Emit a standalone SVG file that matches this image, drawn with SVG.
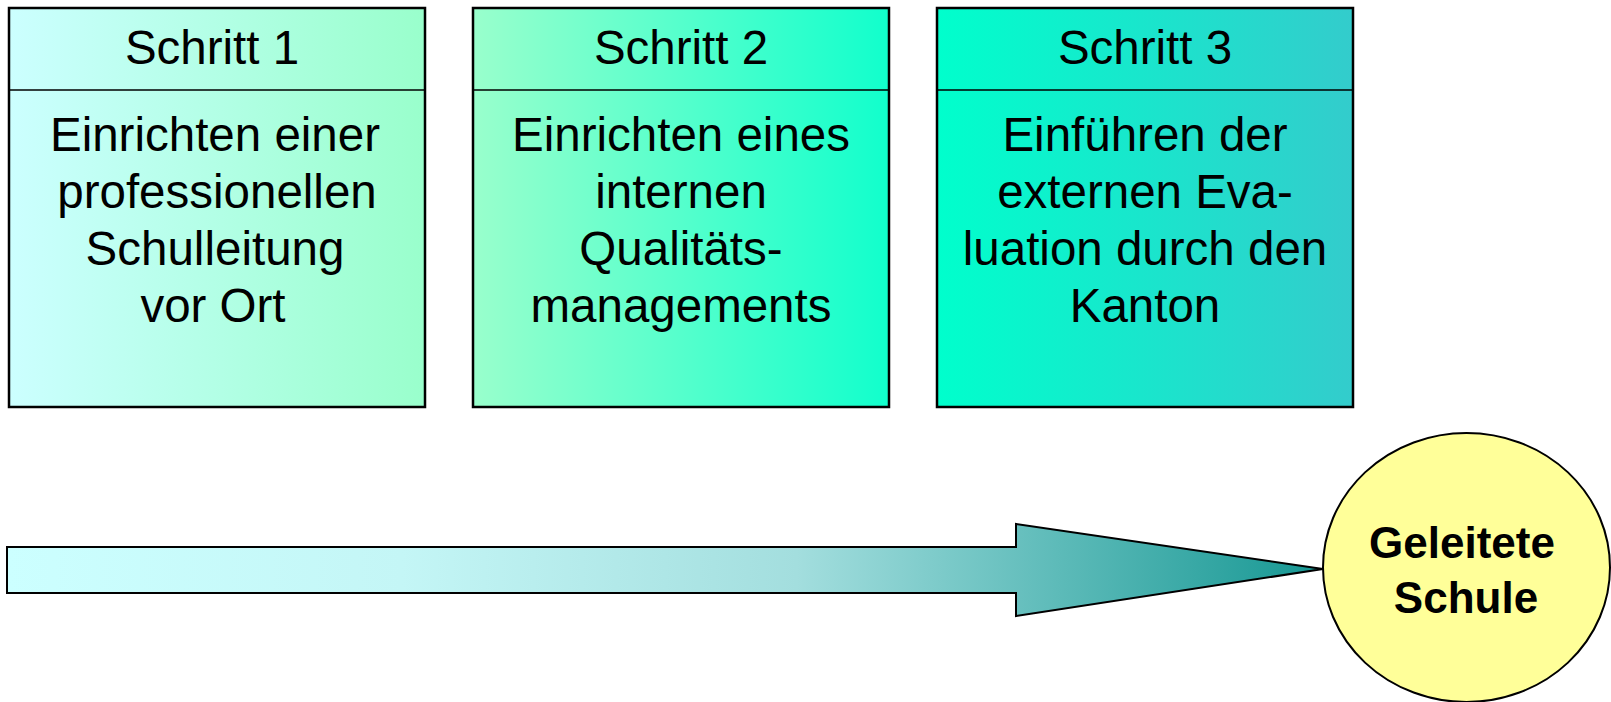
<svg xmlns="http://www.w3.org/2000/svg" width="1611" height="702" viewBox="0 0 1611 702">
<defs>
<linearGradient id="g1" x1="0" y1="0" x2="1" y2="0"><stop offset="0" stop-color="#CCFFFF"/><stop offset="1" stop-color="#99FFCC"/></linearGradient>
<linearGradient id="g2" x1="0" y1="0" x2="1" y2="0"><stop offset="0" stop-color="#99FFCC"/><stop offset="1" stop-color="#11FFCC"/></linearGradient>
<linearGradient id="g3" x1="0" y1="0" x2="1" y2="0"><stop offset="0" stop-color="#00FFCC"/><stop offset="1" stop-color="#33CCCC"/></linearGradient>
<linearGradient id="ga" gradientUnits="userSpaceOnUse" x1="7" y1="0" x2="1323" y2="0"><stop offset="0" stop-color="#CCFFFF"/><stop offset="0.3" stop-color="#C4F6F6"/><stop offset="0.6" stop-color="#A3DEDE"/><stop offset="1" stop-color="#169793"/></linearGradient>
</defs>
<style>
.box{stroke:#000;stroke-width:2.5}
.sep{stroke:#000;stroke-width:1.5}
.t{font-family:"Liberation Sans",Arial,sans-serif;font-size:47.5px;fill:#000;text-anchor:middle}
.b{font-family:"Liberation Sans",Arial,sans-serif;font-size:44px;font-weight:bold;fill:#000;text-anchor:middle}
</style>
<g id="step1">
<rect class="box" x="9" y="8" width="416" height="399" fill="url(#g1)"/>
<line class="sep" x1="9" y1="90" x2="425" y2="90"/>
<text class="t" x="212" y="64">Schritt 1</text>
<text class="t" x="215" y="151">Einrichten einer</text>
<text class="t" x="217" y="208">professionellen</text>
<text class="t" x="215" y="265">Schulleitung</text>
<text class="t" x="213" y="322">vor Ort</text>
</g>
<g id="step2">
<rect class="box" x="473" y="8" width="416" height="399" fill="url(#g2)"/>
<line class="sep" x1="473" y1="90" x2="889" y2="90"/>
<text class="t" x="681" y="64">Schritt 2</text>
<text class="t" x="681" y="151">Einrichten eines</text>
<text class="t" x="681" y="208">internen</text>
<text class="t" x="681" y="265">Qualitäts-</text>
<text class="t" x="681" y="322">managements</text>
</g>
<g id="step3">
<rect class="box" x="937" y="8" width="416" height="399" fill="url(#g3)"/>
<line class="sep" x1="937" y1="90" x2="1353" y2="90"/>
<text class="t" x="1145" y="64">Schritt 3</text>
<text class="t" x="1145" y="151">Einführen der</text>
<text class="t" x="1145" y="208">externen Eva-</text>
<text class="t" x="1145" y="265">luation durch den</text>
<text class="t" x="1145" y="322">Kanton</text>
</g>
<g id="connectors">
<polygon points="7,547 1016,547 1016,524 1323,569 1016,616 1016,593 7,593" fill="url(#ga)" stroke="#000" stroke-width="2" stroke-linejoin="miter"/>
</g>
<g id="goal">
<ellipse cx="1466.5" cy="567.5" rx="143.5" ry="134.5" fill="#FFFF99" stroke="#000" stroke-width="2"/>
<text class="b" x="1462" y="558">Geleitete</text>
<text class="b" x="1466" y="613">Schule</text>
</g>
</svg>
